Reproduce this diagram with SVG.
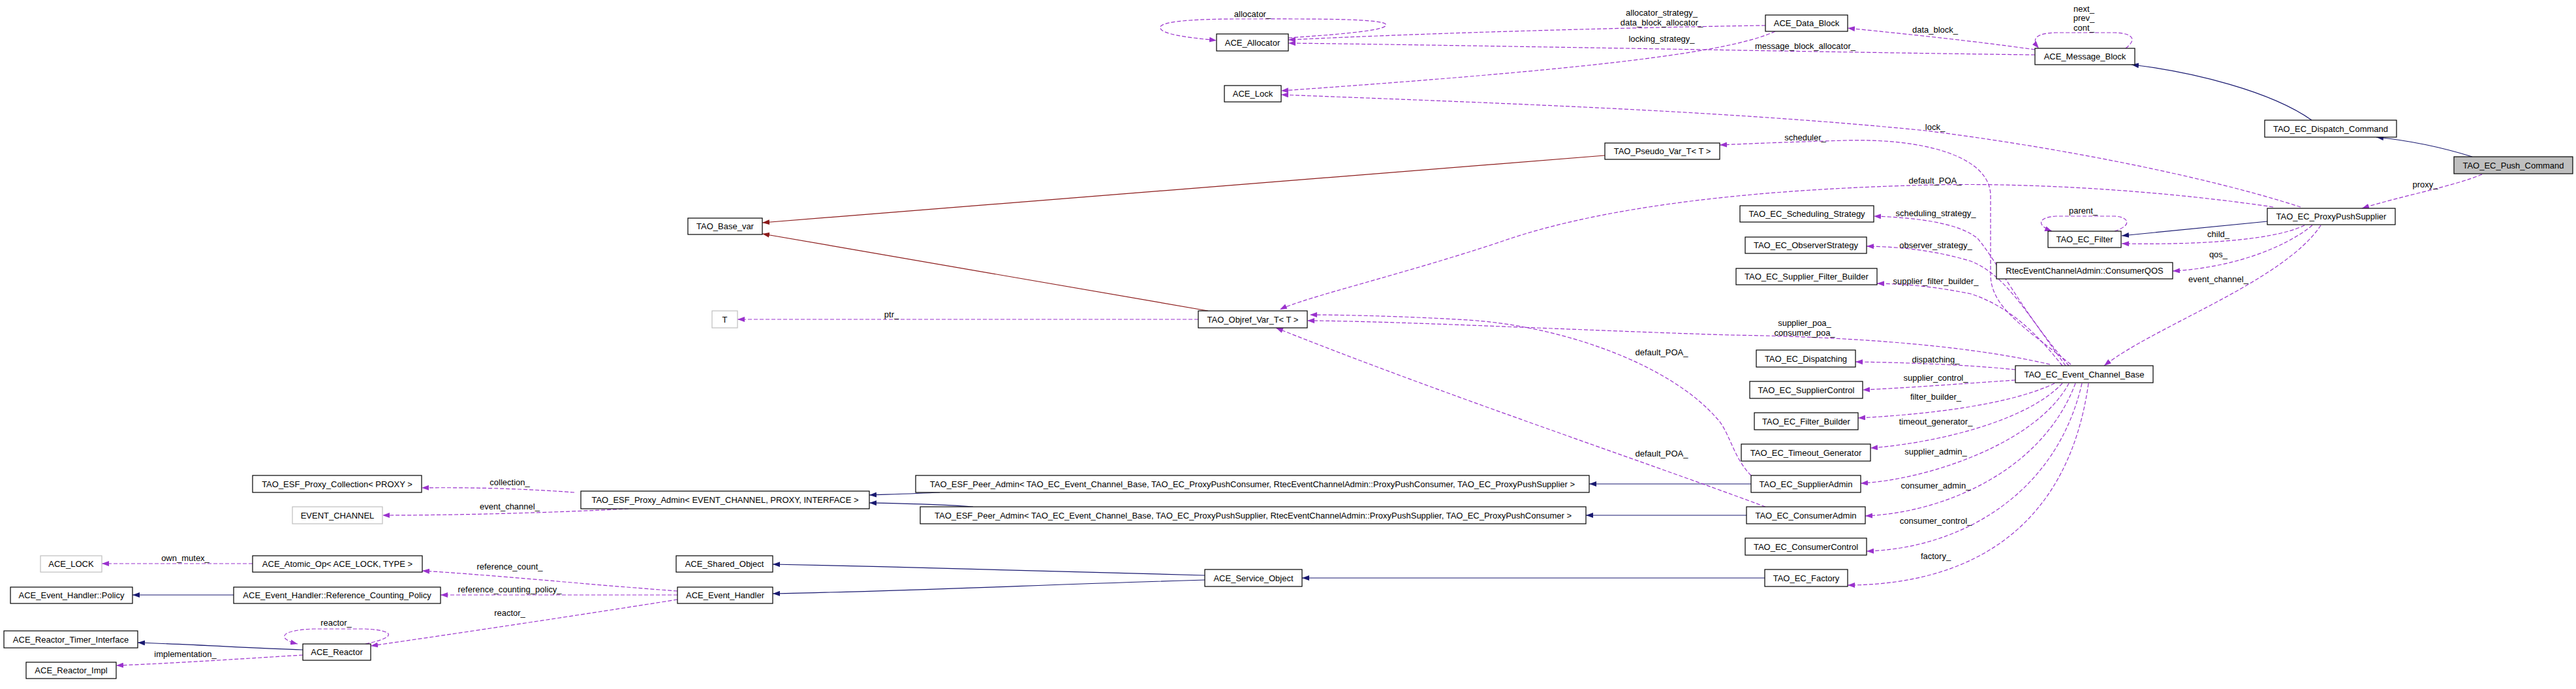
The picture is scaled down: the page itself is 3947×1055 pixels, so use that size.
<svg xmlns="http://www.w3.org/2000/svg" width="3947" height="1055" viewBox="0 0 3947 1055">
<style>
.n rect{fill:#fff;stroke:#000;stroke-width:1.2}
.n.g rect{stroke:#bfbfbf}
.n.h rect{fill:#bfbfbf}
text{font-family:"Liberation Sans",Arial,Helvetica,sans-serif;font-size:13px;text-anchor:middle;fill:#000}
#edges path{fill:none;stroke-width:1.2}
#edges .i{stroke:#191970;marker-end:url(#aN)}
#edges .p{stroke:#8b1a1a;marker-end:url(#aR)}
#edges .u{stroke:#9a32cd;stroke-dasharray:6,3;marker-end:url(#aU)}
</style>
<defs>
<marker id="aN" viewBox="0 0 11 8" refX="11" refY="4" markerWidth="11" markerHeight="8" markerUnits="userSpaceOnUse" orient="auto"><path d="M0,0 L11,4 L0,8 z" fill="#191970"/></marker>
<marker id="aR" viewBox="0 0 11 8" refX="11" refY="4" markerWidth="11" markerHeight="8" markerUnits="userSpaceOnUse" orient="auto"><path d="M0,0 L11,4 L0,8 z" fill="#8b1a1a"/></marker>
<marker id="aU" viewBox="0 0 11 8" refX="11" refY="4" markerWidth="11" markerHeight="8" markerUnits="userSpaceOnUse" orient="auto"><path d="M0,0 L11,4 L0,8 z" fill="#9a32cd"/></marker>
</defs>
<rect x="0" y="0" width="3947" height="1055" fill="#fff"/>
<g id="edges">
<path class="i" d="M3788,240 C3740,225 3690,215 3641,210"/>
<path class="i" d="M3542,184 C3480,140 3360,110 3266,99"/>
<path class="i" d="M3474,339 L3251,361"/>
<path class="i" d="M2683,741 L2435,741"/>
<path class="i" d="M2676,789 L2430,789"/>
<path class="i" d="M1440,754 C1400,756 1360,757 1332,758"/>
<path class="i" d="M1491,776 C1440,772 1380,771 1332,770"/>
<path class="i" d="M2704,885 L1995,885"/>
<path class="i" d="M1846,881 C1600,875 1400,868 1184,864"/>
<path class="i" d="M1846,888 C1600,895 1400,905 1184,909"/>
<path class="i" d="M358,911 L203,911"/>
<path class="i" d="M464,995 C380,992 300,987 211,984"/>
<path class="p" d="M2459,238 L1168,341"/>
<path class="p" d="M1851,476 L1168,358"/>
<path class="u" d="M3803,267 C3760,285 3680,300 3619,319"/>
<path class="u" d="M3257,74 C3275,60 3268,51 3240,50 L3150,50 C3118,51 3112,60 3124,74"/>
<path class="u" d="M3118,76 C3020,62 2900,50 2831,43"/>
<path class="u" d="M3118,84 C2800,80 2300,70 1974,66"/>
<path class="u" d="M2705,39 C2500,42 2200,50 1974,61"/>
<path class="u" d="M2720,48 C2650,80 2450,105 1963,139"/>
<path class="u" d="M1974,58 C2060,52 2135,46 2122,36 C2105,28 2000,29 1900,29 C1800,29 1768,36 1780,46 C1792,55 1830,58 1864,62"/>
<path class="u" d="M3525,317 C3380,270 3150,225 2950,200 C2650,170 2300,158 1963,145"/>
<path class="u" d="M3483,317 C3300,290 3100,280 2965,283 C2800,287 2500,300 2300,370 C2150,420 2000,455 1961,474"/>
<path class="u" d="M3173,558 C3100,500 3050,470 3050,420 L3050,300 C3050,240 2950,212 2830,215 C2750,217 2680,220 2635,222"/>
<path class="u" d="M3556,345 C3500,430 3300,500 3224,560"/>
<path class="u" d="M3531,345 C3480,370 3350,375 3251,373"/>
<path class="u" d="M3543,345 C3500,380 3420,410 3329,415"/>
<path class="u" d="M3240,354 C3268,345 3262,332 3240,331 L3150,331 C3122,333 3120,345 3144,354"/>
<path class="u" d="M3170,560 C3100,480 3060,400 3030,365 C3000,340 2930,333 2871,331"/>
<path class="u" d="M3165,560 C3100,470 3070,420 3020,400 C2970,385 2920,378 2860,377"/>
<path class="u" d="M3160,560 C3120,510 3080,470 3020,450 C2960,438 2920,435 2876,434"/>
<path class="u" d="M3141,558 C3000,525 2800,515 2650,513 C2400,505 2150,492 2003,491"/>
<path class="u" d="M3088,566 C3000,557 2900,555 2843,554"/>
<path class="u" d="M3088,582 C3000,588 2920,594 2854,597"/>
<path class="u" d="M3148,587 C3080,620 2950,635 2847,640"/>
<path class="u" d="M3160,587 C3100,650 2950,680 2866,686"/>
<path class="u" d="M3170,587 C3120,680 2950,735 2851,740"/>
<path class="u" d="M3180,587 C3130,720 2980,785 2858,790"/>
<path class="u" d="M3190,587 C3150,760 3000,840 2860,844"/>
<path class="u" d="M3200,587 C3170,800 3030,895 2831,896"/>
<path class="u" d="M2683,728 C2655,700 2650,660 2630,640 C2560,560 2400,500 2250,490 C2150,484 2050,482 2007,482"/>
<path class="u" d="M2705,776 C2500,700 2200,600 1955,502"/>
<path class="u" d="M1836,489 L1130,489"/>
<path class="u" d="M880,754 C800,748 720,746 646,747"/>
<path class="u" d="M963,779 C850,785 700,789 586,789"/>
<path class="u" d="M387,863 L156,863"/>
<path class="u" d="M1038,905 C900,895 750,880 647,874"/>
<path class="u" d="M1038,911 L675,911"/>
<path class="u" d="M1038,918 C900,940 700,970 568,989"/>
<path class="u" d="M560,986 C612,975 602,965 560,963 L480,963 C428,965 424,978 456,986"/>
<path class="u" d="M464,1003 C380,1008 280,1015 178,1019"/>
</g>
<g id="labels">
<text x="3716" y="287">proxy_</text>
<text x="3193" y="18">next_</text>
<text x="3193" y="32">prev_</text>
<text x="3193" y="47">cont_</text>
<text x="2965" y="50">data_block_</text>
<text x="2766" y="75">message_block_allocator_</text>
<text x="2546" y="24">allocator_strategy_</text>
<text x="2546" y="39">data_block_allocator_</text>
<text x="2546" y="64">locking_strategy_</text>
<text x="1919" y="26">allocator_</text>
<text x="2965" y="199">lock_</text>
<text x="2766" y="215">scheduler_</text>
<text x="2965" y="281">default_POA_</text>
<text x="3192" y="327">parent_</text>
<text x="3399" y="363">child_</text>
<text x="3399" y="394">qos_</text>
<text x="3399" y="432">event_channel_</text>
<text x="2966" y="331">scheduling_strategy_</text>
<text x="2966" y="380">observer_strategy_</text>
<text x="2966" y="435">supplier_filter_builder_</text>
<text x="2765" y="499">supplier_poa_</text>
<text x="2765" y="514">consumer_poa_</text>
<text x="2966" y="555">dispatching_</text>
<text x="2966" y="583">supplier_control_</text>
<text x="2966" y="612">filter_builder_</text>
<text x="2966" y="650">timeout_generator_</text>
<text x="2966" y="696">supplier_admin_</text>
<text x="2966" y="748">consumer_admin_</text>
<text x="2966" y="802">consumer_control_</text>
<text x="2966" y="856">factory_</text>
<text x="2546" y="544">default_POA_</text>
<text x="2546" y="699">default_POA_</text>
<text x="1366" y="486">ptr_</text>
<text x="781" y="743">collection_</text>
<text x="781" y="780">event_channel_</text>
<text x="284" y="859">own_mutex_</text>
<text x="781" y="872">reference_count_</text>
<text x="781" y="907">reference_counting_policy_</text>
<text x="781" y="943">reactor_</text>
<text x="515" y="958">reactor_</text>
<text x="284" y="1006">implementation_</text>
</g>
<g id="n1" class="n h"><rect x="3760" y="240" width="182" height="26"/><text x="3851" y="257.5">TAO_EC_Push_Command</text></g>
<g id="n2" class="n"><rect x="3470" y="184" width="202" height="26"/><text x="3571" y="201.5">TAO_EC_Dispatch_Command</text></g>
<g id="n3" class="n"><rect x="3118" y="74" width="153" height="25"/><text x="3194.5" y="91">ACE_Message_Block</text></g>
<g id="n4" class="n"><rect x="2705" y="23" width="126" height="25"/><text x="2768" y="40">ACE_Data_Block</text></g>
<g id="n5" class="n"><rect x="1864" y="52" width="110" height="26"/><text x="1919" y="69.5">ACE_Allocator</text></g>
<g id="n6" class="n"><rect x="1876" y="131" width="87" height="25"/><text x="1919.5" y="148">ACE_Lock</text></g>
<g id="n7" class="n"><rect x="2459" y="219" width="176" height="25"/><text x="2547" y="236">TAO_Pseudo_Var_T&lt; T &gt;</text></g>
<g id="n8" class="n"><rect x="1054" y="334" width="114" height="25"/><text x="1111" y="351">TAO_Base_var</text></g>
<g id="n9" class="n g"><rect x="1091" y="476" width="39" height="26"/><text x="1110.5" y="493.5">T</text></g>
<g id="n10" class="n"><rect x="1836" y="476" width="167" height="26"/><text x="1919.5" y="493.5">TAO_Objref_Var_T&lt; T &gt;</text></g>
<g id="n11" class="n"><rect x="3474" y="319" width="196" height="25"/><text x="3572" y="336">TAO_EC_ProxyPushSupplier</text></g>
<g id="n12" class="n"><rect x="3138" y="354" width="112" height="25"/><text x="3194" y="371">TAO_EC_Filter</text></g>
<g id="n13" class="n"><rect x="3059" y="402" width="270" height="25"/><text x="3194" y="419">RtecEventChannelAdmin::ConsumerQOS</text></g>
<g id="n14" class="n"><rect x="2666" y="315" width="205" height="25"/><text x="2768.5" y="332">TAO_EC_Scheduling_Strategy</text></g>
<g id="n15" class="n"><rect x="2674" y="363" width="186" height="25"/><text x="2767" y="380">TAO_EC_ObserverStrategy</text></g>
<g id="n16" class="n"><rect x="2660" y="411" width="216" height="25"/><text x="2768" y="428">TAO_EC_Supplier_Filter_Builder</text></g>
<g id="n17" class="n"><rect x="2691" y="536" width="152" height="26"/><text x="2767" y="553.5">TAO_EC_Dispatching</text></g>
<g id="n18" class="n"><rect x="2681" y="584" width="173" height="26"/><text x="2767.5" y="601.5">TAO_EC_SupplierControl</text></g>
<g id="n19" class="n"><rect x="2688" y="632" width="159" height="26"/><text x="2767.5" y="649.5">TAO_EC_Filter_Builder</text></g>
<g id="n20" class="n"><rect x="2668" y="680" width="198" height="26"/><text x="2767" y="697.5">TAO_EC_Timeout_Generator</text></g>
<g id="n21" class="n"><rect x="3088" y="560" width="211" height="26"/><text x="3193.5" y="577.5">TAO_EC_Event_Channel_Base</text></g>
<g id="n22" class="n"><rect x="2683" y="728" width="168" height="26"/><text x="2767" y="745.5">TAO_EC_SupplierAdmin</text></g>
<g id="n23" class="n"><rect x="2676" y="776" width="182" height="26"/><text x="2767" y="793.5">TAO_EC_ConsumerAdmin</text></g>
<g id="n24" class="n"><rect x="2674" y="824" width="186" height="26"/><text x="2767" y="841.5">TAO_EC_ConsumerControl</text></g>
<g id="n25" class="n"><rect x="2704" y="872" width="127" height="26"/><text x="2767.5" y="889.5">TAO_EC_Factory</text></g>
<g id="n26" class="n"><rect x="1403" y="728" width="1032" height="26"/><text x="1919" y="745.5">TAO_ESF_Peer_Admin&lt; TAO_EC_Event_Channel_Base, TAO_EC_ProxyPushConsumer, RtecEventChannelAdmin::ProxyPushConsumer, TAO_EC_ProxyPushSupplier &gt;</text></g>
<g id="n27" class="n"><rect x="1410" y="776" width="1020" height="26"/><text x="1920" y="793.5">TAO_ESF_Peer_Admin&lt; TAO_EC_Event_Channel_Base, TAO_EC_ProxyPushSupplier, RtecEventChannelAdmin::ProxyPushSupplier, TAO_EC_ProxyPushConsumer &gt;</text></g>
<g id="n28" class="n"><rect x="890" y="752" width="442" height="27"/><text x="1111" y="770">TAO_ESF_Proxy_Admin&lt; EVENT_CHANNEL, PROXY, INTERFACE &gt;</text></g>
<g id="n29" class="n"><rect x="387" y="728" width="259" height="26"/><text x="516.5" y="745.5">TAO_ESF_Proxy_Collection&lt; PROXY &gt;</text></g>
<g id="n30" class="n g"><rect x="448" y="776" width="138" height="26"/><text x="517" y="793.5">EVENT_CHANNEL</text></g>
<g id="n31" class="n"><rect x="1846" y="872" width="149" height="26"/><text x="1920.5" y="889.5">ACE_Service_Object</text></g>
<g id="n32" class="n"><rect x="1036" y="851" width="148" height="25"/><text x="1110" y="868">ACE_Shared_Object</text></g>
<g id="n33" class="n"><rect x="1038" y="899" width="146" height="25"/><text x="1111" y="916">ACE_Event_Handler</text></g>
<g id="n34" class="n"><rect x="387" y="851" width="260" height="25"/><text x="517" y="868">ACE_Atomic_Op&lt; ACE_LOCK, TYPE &gt;</text></g>
<g id="n35" class="n g"><rect x="62" y="851" width="94" height="25"/><text x="109" y="868">ACE_LOCK</text></g>
<g id="n36" class="n"><rect x="16" y="899" width="187" height="25"/><text x="109.5" y="916">ACE_Event_Handler::Policy</text></g>
<g id="n37" class="n"><rect x="358" y="899" width="317" height="25"/><text x="516.5" y="916">ACE_Event_Handler::Reference_Counting_Policy</text></g>
<g id="n38" class="n"><rect x="6" y="966" width="205" height="26"/><text x="108.5" y="983.5">ACE_Reactor_Timer_Interface</text></g>
<g id="n39" class="n"><rect x="464" y="986" width="104" height="25"/><text x="516" y="1003">ACE_Reactor</text></g>
<g id="n40" class="n"><rect x="40" y="1014" width="138" height="25"/><text x="109" y="1031">ACE_Reactor_Impl</text></g>
</svg>
